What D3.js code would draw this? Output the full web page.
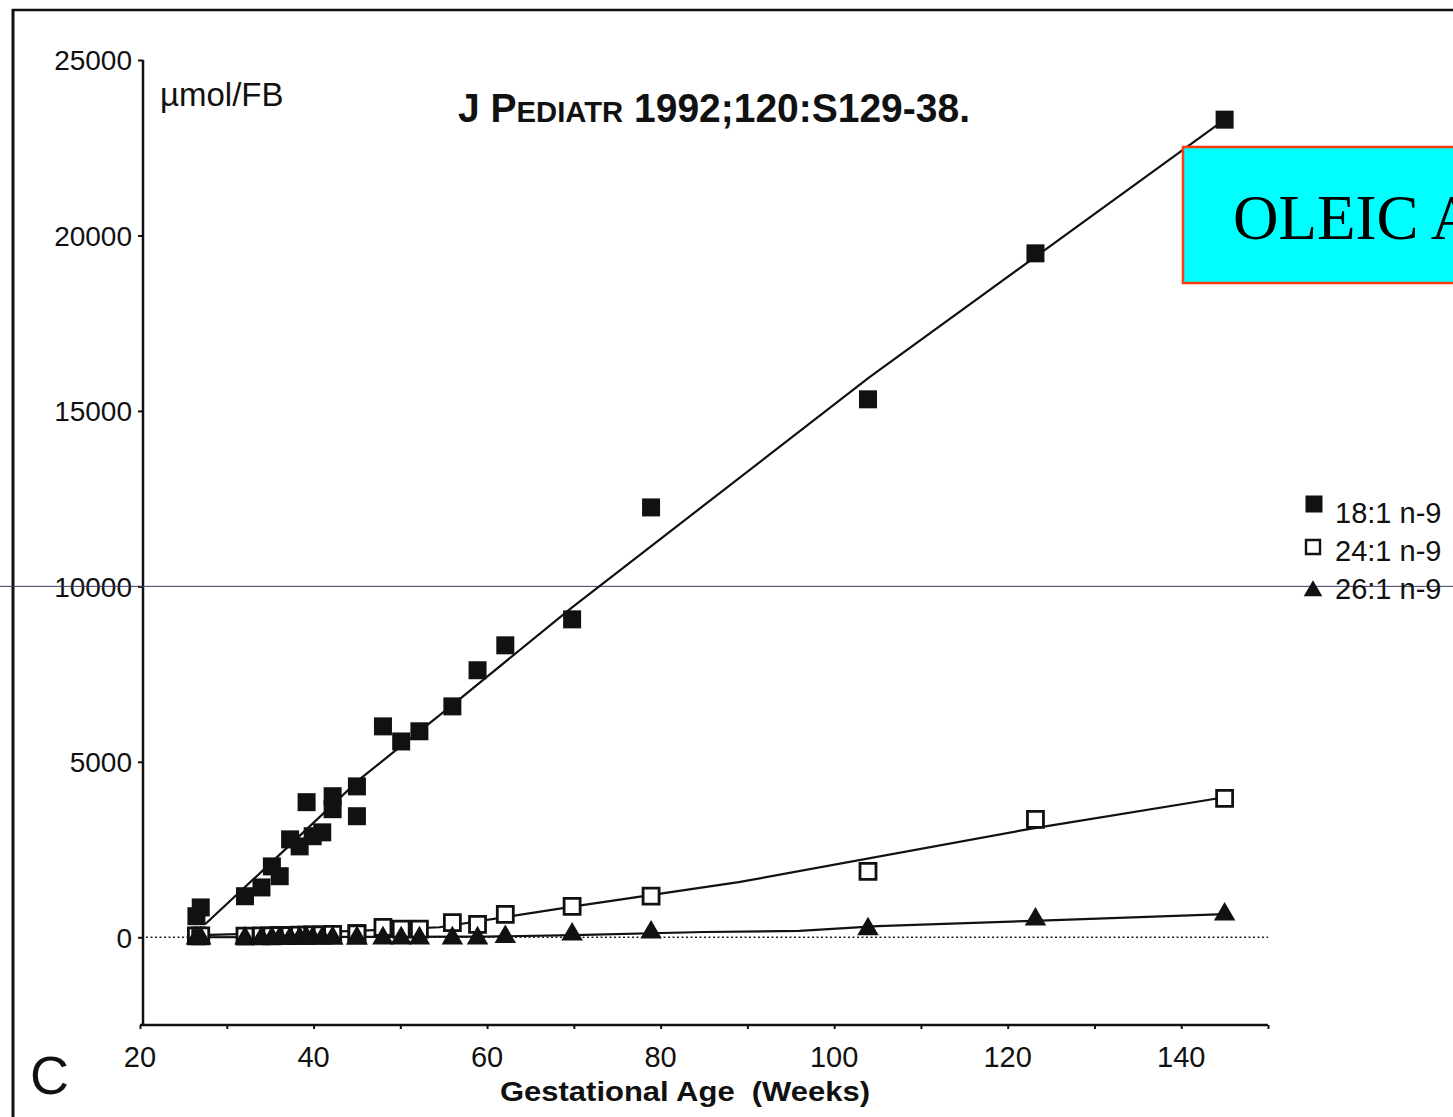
<!DOCTYPE html>
<html>
<head>
<meta charset="utf-8">
<script src="https://cdn.jsdelivr.net/npm/d3@7"></script>
<style>
  body { margin:0; background:#fff; }
  svg { display:block; }
</style>
</head>
<body>
<div id="chart"></div>
<script>
// gestational age (weeks) of each sample
var ages = [26.5, 27, 32.1, 34, 35.2, 36.1, 37.3, 38.4, 39.2, 39.9, 41, 42.2, 42.2, 45, 45,
            48, 50.1, 52.2, 56, 58.9, 62.1, 69.8, 78.9, 103.9, 123.2, 145];
// umol/FB
var c18_1 = [600, 850, 1170, 1420, 2020, 1740, 2790, 2590, 3850, 2880, 2990, 4020, 3650, 4300, 3450,
             6010, 5580, 5870, 6580, 7610, 8320, 9060, 12250, 15330, 19490, 23300];
var c24_1 = [40, 40, 30, 40, 40, 50, 50, 60, 60, 70, 70, 80, 80, 100, 100,
             280, 230, 230, 420, 370, 650, 880, 1170, 1880, 3360, 3960];
var c26_1 = [0, 0, 0, 0, 0, 0, 0, 0, 0, 0, 0, 0, 0, 0, 0,
             0, 0, 0, 0, 0, 40, 110, 170, 260, 540, 680];

// fitted curves [age, value]
var fit18_1 = [[27.5, 370], [35, 2100], [45.3, 4500], [56.8, 6780], [69.8, 9400], [104, 15950], [145, 23300]];
var fit24_1 = [[27, 60], [45, 180], [54.5, 285], [70.6, 900], [89, 1570], [122.4, 3080], [145, 3990]];
var fit26_1 = [[27, 0], [60, 20], [70, 60], [85, 150], [96, 180], [105, 320], [123, 470], [145, 660]];

var xTicks = [20, 40, 60, 80, 100, 120, 140];
var yTicks = [0, 5000, 10000, 15000, 20000, 25000];
var legendLabels = ["18:1 n-9", "24:1 n-9", "26:1 n-9"];

var W = 1453, H = 1117;
var svg = d3.select("#chart").append("svg")
  .attr("width", W).attr("height", H)
  .style("font-family", "'Liberation Sans', Arial, sans-serif");

var x = d3.scaleLinear().domain([20, 150]).range([140, 1268]);
var y = d3.scaleLinear().domain([-2500, 25000]).range([1025, 60]);

// page frame
svg.append("line").attr("x1", 13).attr("x2", 13).attr("y1", 9).attr("y2", H)
  .attr("stroke", "#111").attr("stroke-width", 3);
svg.append("line").attr("x1", 12).attr("x2", W).attr("y1", 10).attr("y2", 10)
  .attr("stroke", "#111").attr("stroke-width", 2.5);

// y axis
var yAxis = svg.append("g").attr("transform", "translate(143,0)")
  .call(d3.axisLeft(y).tickValues(yTicks).tickSize(5).tickPadding(6).tickFormat(d3.format("d")));
yAxis.select(".domain").attr("stroke-width", 2.5).attr("stroke", "#111")
  .attr("d", "M0," + y(25000) + "V" + y(-2500));
yAxis.selectAll(".tick line").attr("stroke-width", 2).attr("stroke", "#111");
yAxis.selectAll(".tick text").style("font-size", "28px").attr("fill", "#111").attr("dy", "0.35em");

// x axis
var xAxis = svg.append("g").attr("transform", "translate(0," + y(-2500) + ")")
  .call(d3.axisBottom(x).ticks(13).tickSize(4).tickFormat(""));
xAxis.select(".domain").attr("stroke-width", 2.5).attr("stroke", "#111")
  .attr("d", "M" + x(20) + ",0H" + x(150));
xAxis.selectAll(".tick line").attr("stroke-width", 2).attr("stroke", "#111");
svg.append("g").selectAll("text").data(xTicks).enter().append("text")
  .attr("x", function (d) { return x(d); })
  .attr("y", 1067)
  .attr("text-anchor", "middle")
  .style("font-size", "29px").attr("fill", "#111")
  .text(function (d) { return d; });

// zero line (dotted)
svg.append("line").attr("x1", 146).attr("x2", x(150)).attr("y1", y(0)).attr("y2", y(0))
  .attr("stroke", "#222").attr("stroke-width", 1.5).attr("stroke-dasharray", "2,2.5");

// thin scan line across the page
svg.append("line").attr("x1", 0).attr("x2", W).attr("y1", y(10000)).attr("y2", y(10000))
  .attr("stroke", "#3c3c66").attr("stroke-width", 1);

// fitted lines
var line = d3.line().x(function (d) { return x(d[0]); }).y(function (d) { return y(d[1]); });
[fit18_1, fit24_1, fit26_1].forEach(function (f) {
  svg.append("path").attr("d", line(f)).attr("fill", "none")
    .attr("stroke", "#111").attr("stroke-width", 2.2);
});

// markers
var sq = d3.symbol().type(d3.symbolSquare);
var tri = d3.symbol().type(d3.symbolTriangle);

svg.append("g").selectAll("path").data(ages).enter().append("path")
  .attr("transform", function (d, i) { return "translate(" + x(d) + "," + y(c24_1[i]) + ")"; })
  .attr("d", sq.size(16 * 16)())
  .attr("fill", "#fff").attr("stroke", "#111").attr("stroke-width", 2.8);

svg.append("g").selectAll("path").data(ages).enter().append("path")
  .attr("transform", function (d, i) { return "translate(" + x(d) + "," + (y(c26_1[i]) + 1) + ")"; })
  .attr("d", tri.size(200)())
  .attr("fill", "#111");

svg.append("g").selectAll("path").data(ages).enter().append("path")
  .attr("transform", function (d, i) { return "translate(" + x(d) + "," + y(c18_1[i]) + ")"; })
  .attr("d", sq.size(18 * 18)())
  .attr("fill", "#111");

// labels
svg.append("text").attr("x", 160).attr("y", 106).style("font-size", "33px").attr("fill", "#111")
  .text("µmol/FB");

var title = svg.append("text").attr("x", 458).attr("y", 122)
  .style("font-weight", "bold").style("font-size", "40px").attr("fill", "#111")
  .attr("textLength", 512).attr("lengthAdjust", "spacingAndGlyphs");
title.append("tspan").text("J P");
title.append("tspan").style("font-size", "30px").text("EDIATR");
title.append("tspan").text(" 1992;120:S129-38.");

svg.append("text").attr("x", 30).attr("y", 1094).style("font-size", "54px").attr("fill", "#111")
  .text("C");

svg.append("text").attr("x", 685).attr("y", 1101).attr("text-anchor", "middle")
  .style("font-weight", "bold").style("font-size", "28px").style("white-space", "pre")
  .attr("fill", "#111")
  .attr("textLength", 370).attr("lengthAdjust", "spacingAndGlyphs")
  .text("Gestational Age  (Weeks)");

// legend
var legY = [504, 547, 590];
var leg = svg.append("g");
leg.append("path").attr("transform", "translate(1314," + legY[0] + ")")
  .attr("d", sq.size(17 * 17)()).attr("fill", "#111");
leg.append("path").attr("transform", "translate(1313," + legY[1] + ")")
  .attr("d", sq.size(14 * 14)()).attr("fill", "#fff").attr("stroke", "#111").attr("stroke-width", 2.4);
leg.append("path").attr("transform", "translate(1313," + (legY[2] + 1) + ")")
  .attr("d", tri.size(150)()).attr("fill", "#111");
leg.selectAll("text").data(legendLabels).enter().append("text")
  .attr("x", 1335)
  .attr("y", function (d, i) { return [523, 561, 599][i]; })
  .style("font-size", "29px").attr("fill", "#111")
  .text(function (d) { return d; });

// OLEIC ACID box (runs off the right edge, as in the source)
svg.append("rect").attr("x", 1183).attr("y", 147).attr("width", 300).attr("height", 136)
  .attr("fill", "#00ffff").attr("stroke", "#ff3a10").attr("stroke-width", 2.5);
svg.append("text").attr("x", 1233).attr("y", 239)
  .style("font-family", "'Liberation Serif', 'Times New Roman', serif").style("font-size", "63px")
  .attr("fill", "#000").text("OLEIC ACID");
</script>
</body>
</html>
